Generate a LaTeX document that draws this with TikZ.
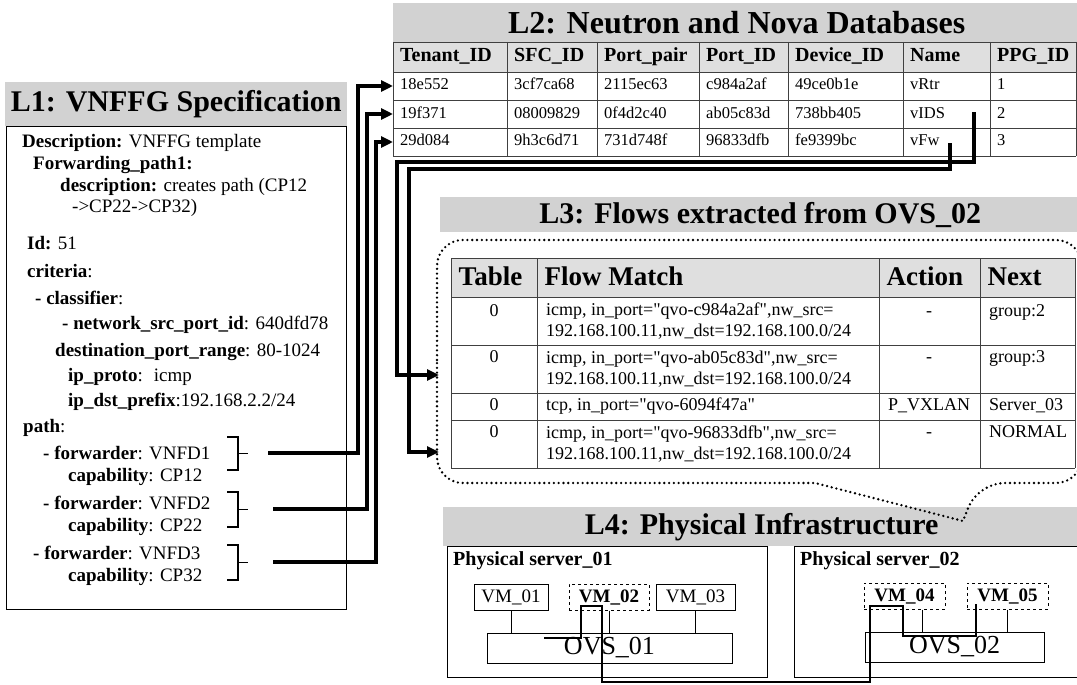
\documentclass[tikz,border=0pt]{standalone}
\usepackage{fontspec}
\setmainfont{Liberation Serif}[Ligatures=TeXOff]
\usepackage{tikz}
\usetikzlibrary{arrows.meta}

\begin{document}
\begin{tikzpicture}[x=1pt,y=-1pt]
	\tikzstyle{band}=[fill=gray!35,inner sep=0pt,anchor=north west,font=\fontsize{30}{32}\selectfont\bfseries]
	\tikzstyle{spec}=[anchor=west,inner sep=0pt,font=\fontsize{19}{22}\selectfont]
	\tikzstyle{hd}=[anchor=west,inner xsep=7pt,inner ysep=0pt,text height=14pt,text depth=4pt,font=\fontsize{20}{22}\selectfont\bfseries]
	\tikzstyle{td}=[anchor=west,inner xsep=7pt,inner ysep=0pt,text height=11.5pt,text depth=3.5pt,font=\fontsize{16.5}{19}\selectfont]
	\tikzstyle{hdbig}=[hd,inner xsep=7.5pt,text height=19pt,text depth=5pt,font=\fontsize{27}{29}\selectfont\bfseries]
	\tikzstyle{flow}=[anchor=west,inner xsep=9pt,inner ysep=0pt,align=left,font=\fontsize{18}{21}\selectfont]
	\tikzstyle{cellleft}=[anchor=west,inner xsep=9pt,inner ysep=0pt,text height=12.5pt,text depth=4pt,font=\fontsize{18}{21}\selectfont]
	\tikzstyle{cellmid}=[inner sep=0pt,text height=12.5pt,text depth=4pt,font=\fontsize{18}{21}\selectfont]
	\tikzstyle{tabline}=[draw=black!75,line width=0.9pt]
	\tikzstyle{fwdline}=[line width=4pt,-{Triangle[length=12pt,width=11pt]}]
	\tikzstyle{dotline}=[line width=2.6pt,line cap=round,dash pattern=on 0pt off 4.8pt]
	\tikzstyle{panel}=[draw,line width=1.2pt,inner sep=0pt,anchor=north west]
	\tikzstyle{vm}=[draw,line width=1pt,minimum height=26,inner sep=0pt,font=\fontsize{19}{21}\selectfont]
	\tikzstyle{vmdash}=[vm,dashed,font=\fontsize{19}{21}\selectfont\bfseries]
	\tikzstyle{ovs}=[draw,line width=1pt,minimum height=30,inner sep=0pt,font=\fontsize{26}{28}\selectfont]
	\tikzstyle{srvlbl}=[anchor=west,inner sep=0pt,font=\fontsize{20}{22}\selectfont\bfseries]
	\tikzstyle{pathline}=[line width=2.8pt]

	\useasboundingbox (0,0) rectangle (1077,685);

	% L1
	\node[band,minimum width=342,minimum height=44] (l1title) at (5,82) {L1: VNFFG Specification};
	\node[panel,minimum width=340,minimum height=483] (l1box) at (6,126) {};
	\foreach \x/\y/\txt [count=\i] in {
		22/143/{\textbf{Description:} VNFFG template},
		33/165/{\textbf{Forwarding\_path1:}},
		60/187/{\textbf{description:} creates path (CP12},
		72/208/{->CP22->CP32)},
		27/243/{\textbf{Id:} 51},
		27/271/{\textbf{criteria}:},
		35/298/{\textbf{- classifier}:},
		62/325/{\textbf{- network\_src\_port\_id}: 640dfd78},
		55/352/{\textbf{destination\_port\_range}: 80-1024},
		68/377/{\textbf{ip\_proto}:~ icmp},
		68/402/{\textbf{ip\_dst\_prefix}:192.168.2.2/24},
		23/428/{\textbf{path}:},
		43/453/{\textbf{- forwarder}: VNFD1},
		68/477/{\textbf{capability}: CP12},
		43/503/{\textbf{- forwarder}: VNFD2},
		68/527/{\textbf{capability}: CP22},
		33/553/{\textbf{- forwarder}: VNFD3},
		68/577/{\textbf{capability}: CP32}}
		\node[spec] (s\i) at (\x,\y) {\txt};
	\foreach \tp/\bt in {437/470,492/527,545/580}
		\draw[line width=1.2pt] (227,\tp) -- (238,\tp) -- (238,\bt) -- (227,\bt)
			(238,{(\tp+\bt)/2}) -- (248,{(\tp+\bt)/2});
	\coordinate (f1) at (268,453);
	\coordinate (f2) at (273,509);
	\coordinate (f3) at (273,562);

	% L2
	\node[band,minimum width=687,minimum height=39,font=\fontsize{32}{34}\selectfont\bfseries] (l2title) at (393,3) {L2: Neutron and Nova Databases};
	\fill[gray!25] (393,42) rectangle (1076,72);
	\foreach \y in {42,72,100,128,156}
		\draw[tabline] (393,\y) -- (1076,\y);
	\foreach \x in {393,507,597,699,788,903,990,1076}
		\draw[tabline] (\x,42) -- (\x,156);
	\foreach \x/\txt [count=\i] in {393/Tenant\_ID,507/SFC\_ID,597/Port\_pair,699/Port\_ID,788/Device\_ID,903/Name,990/PPG\_ID}
		\node[hd] (h\i) at (\x,57) {\txt};
	\foreach \x/\txt [count=\i] in {393/18e552,507/3cf7ca68,597/2115ec63,699/c984a2af,788/49ce0b1e,903/vRtr,990/1}
		\node[td] (a\i) at (\x,86) {\txt};
	\foreach \x/\txt [count=\i] in {393/19f371,507/08009829,597/0f4d2c40,699/ab05c83d,788/738bb405,903/vIDS,990/2}
		\node[td] (b\i) at (\x,114) {\txt};
	\foreach \x/\txt [count=\i] in {393/29d084,507/9h3c6d71,597/731d748f,699/96833dfb,788/fe9399bc,903/vFw,990/3}
		\node[td] (c\i) at (\x,142) {\txt};

	\draw[fwdline] (f1) -- ++(90,0) |- (a1.west);
	\draw[fwdline] (f2) -- ++(94,0) |- (b1.west);
	\draw[fwdline] (f3) -- ++(103,0) |- (c1.west);

	% L3
	\node[band,minimum width=640,minimum height=35] (l3title) at (440,197) {L3: Flows extracted from OVS\_02};
	\fill[gray!25] (451,258) rectangle (1075,297);
	\foreach \y in {258,297,345,393,420,468}
		\draw[tabline] (451,\y) -- (1075,\y);
	\foreach \x in {451,537,879,980,1075}
		\draw[tabline] (\x,258) -- (\x,468);
	\node[hdbig] (th1) at (451,278) {Table};
	\node[hdbig] (th2) at (537,278) {Flow Match};
	\node[hdbig] (th3) at (879,278) {Action};
	\node[hdbig] (th4) at (980,278) {Next};

	\node[cellmid] (r1c1) at (494,312) {0};
	\node[flow] (r1c2) at (537,321) {icmp, in\_port="qvo-c984a2af",nw\_src=\\192.168.100.11,nw\_dst=192.168.100.0/24};
	\node[cellmid] (r1c3) at (929,312) {-};
	\node[cellleft] (r1c4) at (980,312) {group:2};

	\node[cellmid] (r2c1) at (494,358.5) {0};
	\node[flow] (r2c2) at (537,369) {icmp, in\_port="qvo-ab05c83d",nw\_src=\\192.168.100.11,nw\_dst=192.168.100.0/24};
	\node[cellmid] (r2c3) at (929,358.5) {-};
	\node[cellleft] (r2c4) at (980,358.5) {group:3};

	\node[cellmid] (r3c1) at (494,406.5) {0};
	\node[cellleft] (r3c2) at (537,406.5) {tcp, in\_port="qvo-6094f47a"};
	\node[cellmid] (r3c3) at (929,406.5) {P\_VXLAN};
	\node[cellleft] (r3c4) at (980,406.5) {Server\_03};

	\node[cellmid] (r4c1) at (494,433.5) {0};
	\node[flow] (r4c2) at (537,444) {icmp, in\_port="qvo-96833dfb",nw\_src=\\192.168.100.11,nw\_dst=192.168.100.0/24};
	\node[cellmid] (r4c3) at (929,433.5) {-};
	\node[cellleft] (r4c4) at (980,433.5) {NORMAL};

	% L4
	\node[band,minimum width=637,minimum height=39] (l4title) at (443,507) {L4: Physical Infrastructure};

	\draw[dotline] (437,360) [rounded corners=26pt] |- (1082,240) |- (978,483)
		[sharp corners] -- (963,521) -- (815,483) [rounded corners=26pt] -| (437,360);

	\coordinate (vids) at (974,112);
	\coordinate (vfw) at (950,143);
	\coordinate (in2) at (439,375);
	\coordinate (in4) at (439,452);
	\draw[fwdline] (vids) -- ++(0,50) -| ([xshift=-42pt]in2) -- (in2);
	\draw[fwdline] (vfw) -- ++(0,26) -| ([xshift=-30pt]in4) -- (in4);

	\node[panel,minimum width=320,minimum height=131] (srv1) at (447,546) {};
	\node[panel,minimum width=292,minimum height=131] (srv2) at (794,546) {};
	\node[srvlbl] (srv1lbl) at (453,561) {Physical server\_01};
	\node[srvlbl] (srv2lbl) at (800,561) {Physical server\_02};

	\node[vm,minimum width=74] (vm1) at (511,597) {VM\_01};
	\node[vmdash,minimum width=80] (vm2) at (609,597) {VM\_02};
	\node[vm,minimum width=79] (vm3) at (695.5,597) {VM\_03};
	\node[vmdash,minimum width=81] (vm4) at (904.5,596) {VM\_04};
	\node[vmdash,minimum width=81] (vm5) at (1007.5,596) {VM\_05};
	\node[ovs,minimum width=245] (ovs1) at (609.5,648) {OVS\_01};
	\node[ovs,minimum width=179] (ovs2) at (954.5,647) {OVS\_02};

	\draw (vm1.south) -- (vm1.south |- ovs1.north);
	\draw (vm2.south) -- (vm2.south |- ovs1.north);
	\draw (vm3.south) -- (vm3.south |- ovs1.north);
	\draw ([xshift=18pt]vm4.south) -- ++(0,23);
	\draw (vm5.south) -- (vm5.south |- ovs2.north);

	\coordinate (p0) at (544,638);
	\draw[pathline] (p0) -- ++(37,0) -- ++(0,-32) -- ++(21,0) -- ++(0,76) -- ++(268,0)
		-- ++(0,-76) -- ++(33,0) -- ++(0,30) -- ++(73,0) -- ++(0,-32);
\end{tikzpicture}
\end{document}
